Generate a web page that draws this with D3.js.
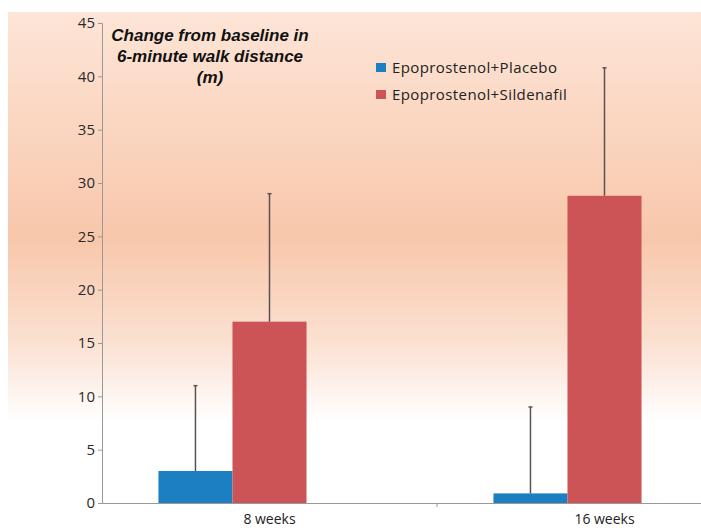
<!DOCTYPE html>
<html>
<head>
<meta charset="utf-8">
<script src="https://cdn.jsdelivr.net/npm/d3@7"></script>
<style>
  body { margin: 0; background: #fff; }
  svg { display: block; overflow: hidden; }
  text { font-family: "Open Sans", sans-serif; }
</style>
</head>
<body>
<script>
const width = 701
const height = 531

// data
const categories = ['8 weeks', '16 weeks']
const seriesNames = ['Epoprostenol+Placebo', 'Epoprostenol+Sildenafil']
const placeboMeans = [3, 0.9]
const placeboErrTop = [11, 9]
const sildenafilMeans = [17, 28.8]
const sildenafilErrTop = [29, 40.8]
const yTicks = [0, 5, 10, 15, 20, 25, 30, 35, 40, 45]
const titleLines = ['Change from baseline in', '6-minute walk distance', '(m)']
const colors = ['#1c7fc2', '#cc5356']

const svg = d3.select('body')
  .append('svg')
  .attr('width', width)
  .attr('height', height)

// background gradient
const defs = svg.append('defs')
const grad = defs.append('linearGradient')
  .attr('id', 'bg')
  .attr('x1', 0).attr('y1', 0).attr('x2', 0).attr('y2', 1)
grad.append('stop').attr('offset', '0%').attr('stop-color', '#fde5d7')
grad.append('stop').attr('offset', '55%').attr('stop-color', '#f8c7ab')
grad.append('stop').attr('offset', '80%').attr('stop-color', '#fbe0d0')
grad.append('stop').attr('offset', '100%').attr('stop-color', '#ffffff')

svg.append('rect')
  .attr('x', 8).attr('y', 12)
  .attr('width', width - 8).attr('height', 410)
  .attr('fill', 'url(#bg)')

const margin = { left: 102, top: 23, bottom: 28 }
const y = d3.scaleLinear()
  .domain([0, 45])
  .range([height - margin.bottom, margin.top])

// the plot area continues past the right edge of the picture
const x0 = d3.scaleBand()
  .domain(categories)
  .range([margin.left, 772])
  .paddingInner(0.337)
  .paddingOuter(0.1685)

// three slots per group, the last one left empty
const x1 = d3.scaleBand()
  .domain([0, 1, 2])
  .range([0, x0.bandwidth()])

const rows = categories.map((c, i) => ({
  cat: c,
  vals: [
    { s: 0, v: placeboMeans[i], e: placeboErrTop[i] },
    { s: 1, v: sildenafilMeans[i], e: sildenafilErrTop[i] }
  ]
}))

const groups = svg.append('g').attr('class', 'bars')
  .selectAll('g')
  .data(rows)
  .enter()
  .append('g')
  .attr('transform', d => `translate(${x0(d.cat)},0)`)

groups.selectAll('rect')
  .data(d => d.vals)
  .enter()
  .append('rect')
  .attr('x', d => x1(d.s))
  .attr('y', d => y(d.v))
  .attr('width', x1.bandwidth())
  .attr('height', d => y(0) - y(d.v))
  .attr('fill', d => colors[d.s])

// error bars
groups.selectAll('line.err')
  .data(d => d.vals)
  .enter()
  .append('line')
  .attr('class', 'err')
  .attr('x1', d => x1(d.s) + x1.bandwidth() / 2)
  .attr('x2', d => x1(d.s) + x1.bandwidth() / 2)
  .attr('y1', d => y(d.v))
  .attr('y2', d => y(d.e))
  .attr('stroke', '#5a5252')
  .attr('stroke-width', 1.5)

groups.selectAll('line.cap')
  .data(d => d.vals)
  .enter()
  .append('line')
  .attr('class', 'cap')
  .attr('x1', d => x1(d.s) + x1.bandwidth() / 2 - 2)
  .attr('x2', d => x1(d.s) + x1.bandwidth() / 2 + 2)
  .attr('y1', d => y(d.e))
  .attr('y2', d => y(d.e))
  .attr('stroke', '#5a5252')
  .attr('stroke-width', 1.5)

// y axis
const yAxis = svg.append('g')
  .attr('transform', `translate(${margin.left},0)`)
  .call(d3.axisLeft(y).tickValues(yTicks).tickSize(4).tickPadding(3))
yAxis.select('.domain').attr('stroke', '#999')
yAxis.selectAll('.tick line').attr('stroke', '#999')
yAxis.selectAll('.tick text')
  .attr('fill', '#2a2a2a')
  .style('font-size', '15px')

// x axis
const xAxis = svg.append('g')
  .attr('transform', `translate(0,${y(0)})`)
  .call(d3.axisBottom(x0).tickSize(0).tickPadding(11))
xAxis.select('.domain').attr('stroke', '#999')
xAxis.selectAll('.tick text')
  .attr('fill', '#222')
  .style('font-size', '14px')

// separator tick between categories
svg.append('line')
  .attr('x1', x0.range()[0] + x0.step())
  .attr('x2', x0.range()[0] + x0.step())
  .attr('y1', y(0))
  .attr('y2', y(0) + 4)
  .attr('stroke', '#999')

// title
svg.append('text')
  .attr('x', 210)
  .attr('y', 41)
  .attr('text-anchor', 'middle')
  .style('font-family', '"Liberation Sans", Arial, sans-serif')
  .style('font-weight', 'bold')
  .style('font-style', 'italic')
  .style('font-size', '17px')
  .attr('fill', '#111')
  .selectAll('tspan')
  .data(titleLines)
  .enter()
  .append('tspan')
  .attr('x', 210)
  .attr('dy', (d, i) => i === 0 ? 0 : 21)
  .text(d => d)

// legend
const legend = svg.append('g')
  .attr('transform', 'translate(376,63)')
const items = legend.selectAll('g')
  .data(seriesNames)
  .enter()
  .append('g')
  .attr('transform', (d, i) => `translate(0,${i * 27})`)
items.append('rect')
  .attr('width', 10).attr('height', 9)
  .attr('fill', (d, i) => colors[i])
items.append('text')
  .attr('x', 16)
  .attr('y', 10)
  .attr('fill', '#222')
  .style('font-size', '15px')
  .style('letter-spacing', '0.4px')
  .text(d => d)
</script>
</body>
</html>
